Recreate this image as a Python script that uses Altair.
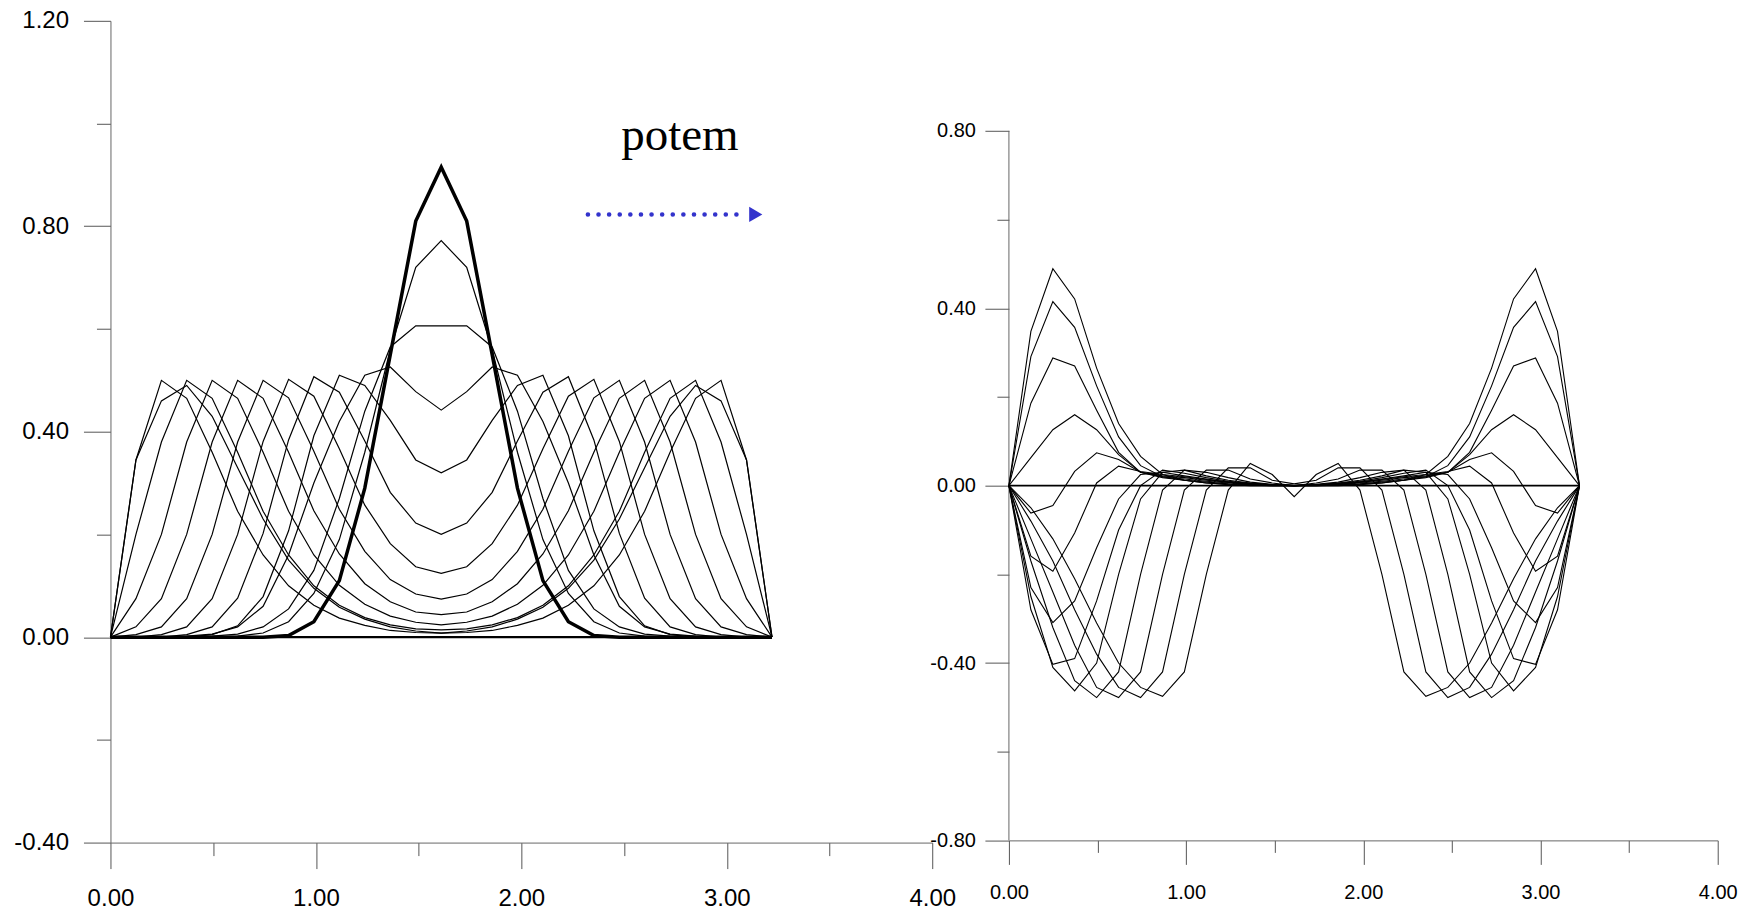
import altair as alt
import pandas as pd

# grid positions (x) shared by every curve
X = [0.000, 0.124, 0.248, 0.371, 0.495, 0.619, 0.743, 0.867, 0.990, 1.114, 1.238, 1.362, 1.486, 1.610,
     1.734, 1.858, 1.981, 2.105, 2.229, 2.353, 2.477, 2.600, 2.724, 2.848, 2.972, 3.096, 3.220]

# Left panel: values at grid points 0..13 (curves are symmetric about x = 1.61)
LEFT_BOLD = [0, 0, 0, 0, 0, 0, 0, 0.003, 0.03, 0.11, 0.29, 0.55, 0.81, 0.915]
LEFT_ZERO = [0] * 14
LEFT_CURVES = [
    [0, 0, 0, 0, 0, 0.002, 0.008, 0.03, 0.085, 0.19, 0.36, 0.56, 0.72, 0.772],
    [0, 0, 0, 0, 0.002, 0.006, 0.02, 0.055, 0.13, 0.27, 0.44, 0.565, 0.606, 0.606],
    [0, 0, 0, 0.002, 0.006, 0.02, 0.06, 0.16, 0.30, 0.42, 0.51, 0.526, 0.478, 0.442],
    [0, 0, 0, 0, 0.005, 0.022, 0.079, 0.207, 0.392, 0.51, 0.49, 0.422, 0.345, 0.32],
    [0, 0, 0, 0.005, 0.02, 0.076, 0.202, 0.384, 0.507, 0.477, 0.382, 0.282, 0.222, 0.20],
    [0, 0, 0.005, 0.02, 0.075, 0.20, 0.381, 0.502, 0.469, 0.367, 0.257, 0.182, 0.137, 0.124],
    [0, 0.005, 0.02, 0.075, 0.20, 0.38, 0.50, 0.466, 0.362, 0.249, 0.167, 0.112, 0.084, 0.074],
    [0, 0.02, 0.075, 0.20, 0.38, 0.50, 0.465, 0.36, 0.246, 0.162, 0.104, 0.069, 0.049, 0.044],
    [0, 0.075, 0.20, 0.38, 0.50, 0.465, 0.36, 0.245, 0.16, 0.101, 0.064, 0.041, 0.029, 0.024],
    [0, 0.20, 0.38, 0.50, 0.465, 0.36, 0.245, 0.16, 0.10, 0.062, 0.038, 0.024, 0.016, 0.014],
    [0, 0.345, 0.50, 0.465, 0.36, 0.245, 0.16, 0.10, 0.062, 0.037, 0.023, 0.013, 0.009, 0.008],
    [0, 0.345, 0.46, 0.49, 0.43, 0.33, 0.23, 0.15, 0.095, 0.058, 0.035, 0.02, 0.012, 0.008],
]

# Right panel ("potem"): values at grid points 0..13, symmetric about x = 1.61
RIGHT_ZERO = [0] * 14
RIGHT_CURVES = [
    [0, 0.348, 0.489, 0.421, 0.265, 0.14, 0.066, 0.025, 0.012, 0.006, 0.002, 0, 0, 0],
    [0, 0.291, 0.415, 0.357, 0.225, 0.11, 0.045, 0.02, 0.012, 0.006, 0.003, 0.001, 0, 0],
    [0, 0.186, 0.288, 0.270, 0.17, 0.075, 0.03, 0.018, 0.012, 0.008, 0.004, 0.002, 0, 0],
    [0, 0.063, 0.126, 0.160, 0.126, 0.07, 0.03, 0.02, 0.015, 0.01, 0.006, 0.003, 0.001, 0],
    [0, -0.062, -0.045, 0.032, 0.074, 0.059, 0.03, 0.022, 0.018, 0.012, 0.008, 0.004, 0.001, 0],
    [0, -0.159, -0.193, -0.107, 0.006, 0.044, 0.032, 0.025, 0.02, 0.014, 0.008, 0.004, 0.002, 0],
    [0, -0.23, -0.309, -0.26, -0.14, -0.03, 0.025, 0.03, 0.022, 0.015, 0.008, 0.004, 0.002, 0],
    [0, -0.28, -0.403, -0.39, -0.26, -0.10, 0.0, 0.035, 0.028, 0.018, 0.01, 0.005, 0.002, 0],
    [0, -0.25, -0.41, -0.463, -0.40, -0.20, -0.03, 0.03, 0.035, 0.022, 0.012, 0.006, 0.002, 0],
    [0, -0.17, -0.32, -0.44, -0.478, -0.42, -0.20, -0.01, 0.035, 0.03, 0.018, 0.008, 0.003, 0],
    [0, -0.12, -0.24, -0.36, -0.455, -0.478, -0.42, -0.20, -0.01, 0.035, 0.035, 0.015, 0.006, 0.0],
    [0, -0.08, -0.17, -0.28, -0.38, -0.455, -0.478, -0.42, -0.20, -0.01, 0.04, 0.04, 0.012, 0.004],
    [0, -0.05, -0.12, -0.21, -0.31, -0.40, -0.455, -0.475, -0.42, -0.20, -0.01, 0.05, 0.025, -0.025],
]

LEFT_X_TICKS = [0, 0.5, 1, 1.5, 2, 2.5, 3, 3.5, 4]
LEFT_Y_TICKS = [-0.4, -0.2, 0, 0.2, 0.4, 0.6, 0.8, 1.0, 1.2]
RIGHT_X_TICKS = [0, 0.5, 1, 1.5, 2, 2.5, 3, 3.5, 4]
RIGHT_Y_TICKS = [-0.8, -0.6, -0.4, -0.2, 0, 0.2, 0.4, 0.6, 0.8]

ANNOT_TEXT = "potem"
ANNOT_POS = (2.772, 0.948)
ARROW_X = (2.324, 3.063)
ARROW_HEAD_X = 3.141
ARROW_Y = 0.823


def mirror(half):
    return list(half) + list(half[-2::-1])


def curves_df(curves, prefix):
    rows = []
    for k, half in enumerate(curves):
        for i, (x, y) in enumerate(zip(X, mirror(half))):
            rows.append({"curve": f"{prefix}{k}", "i": i, "x": x, "y": y})
    return pd.DataFrame(rows)


def make_axis(values, test, font_size, major, minor, pad, domain=True):
    fmt = "replace(format(datum.value, '.2f'), '\u2212', '-')"
    return alt.Axis(
        values=values,
        labelExpr=f"({test}) ? {fmt} : ''",
        tickSize={"condition": {"test": test, "value": major}, "value": minor},
        labelFont="Liberation Sans", labelFontSize=font_size, labelColor="black",
        domain=domain, domainColor="#666666", tickColor="#555555", domainWidth=1, tickWidth=1,
        labelPadding=pad, grid=False, title=None, labelFlush=False, labelOverlap=False,
    )


X_TEST = "abs(datum.value - round(datum.value)) < 0.01"
Y_TEST = "abs(datum.value / 0.4 - round(datum.value / 0.4)) < 0.01"

# ---------------- left panel ----------------
lx = alt.X("x:Q", scale=alt.Scale(domain=[0, 4], nice=False, zero=False),
           axis=make_axis(LEFT_X_TICKS, X_TEST, 24, 26, 13, 18))
ly = alt.Y("y:Q", scale=alt.Scale(domain=[-0.4, 1.2], nice=False, zero=False),
           axis=make_axis(LEFT_Y_TICKS, Y_TEST, 24, 27, 14, 15))

left_thin = alt.Chart(curves_df(LEFT_CURVES, "L")).mark_line(
    color="black", strokeWidth=1.2).encode(x=lx, y=ly, detail="curve:N", order="i:Q")
left_zero = alt.Chart(curves_df([LEFT_ZERO], "Z")).mark_line(
    color="black", strokeWidth=2.2).encode(x="x:Q", y="y:Q", order="i:Q")
left_bold = alt.Chart(curves_df([LEFT_BOLD], "B")).mark_line(
    color="black", strokeWidth=3.5, strokeJoin="miter").encode(x="x:Q", y="y:Q", order="i:Q")

text_df = pd.DataFrame([{"x": ANNOT_POS[0], "y": ANNOT_POS[1], "t": ANNOT_TEXT}])
left_text = alt.Chart(text_df).mark_text(
    font="Liberation Serif", fontSize=47, align="center", baseline="alphabetic", color="black"
).encode(x="x:Q", y="y:Q", text="t:N")

arrow_df = pd.DataFrame([{"x": ARROW_X[0], "x2": ARROW_X[1], "y": ARROW_Y}])
left_arrow = alt.Chart(arrow_df).mark_rule(
    color="#3333CC", strokeWidth=4.6, strokeCap="round", strokeDash=[0.01, 10.6]
).encode(x="x:Q", x2="x2:Q", y="y:Q")
head_df = pd.DataFrame([{"x": ARROW_HEAD_X, "y": ARROW_Y}])
left_head = alt.Chart(head_df).mark_point(
    shape="triangle-right", filled=True, size=230, color="#3333CC", opacity=1, strokeWidth=0
).encode(x="x:Q", y="y:Q")

left = alt.layer(left_thin, left_zero, left_bold, left_text, left_arrow, left_head).properties(
    width=822, height=822)

# ---------------- right panel ----------------
rx = alt.X("x:Q", scale=alt.Scale(domain=[0, 4], nice=False, zero=False),
           axis=make_axis(RIGHT_X_TICKS, X_TEST, 20, 24, 12, 18))
ry = alt.Y("y:Q", scale=alt.Scale(domain=[-0.8, 1.0482], nice=False, zero=False),
           axis=make_axis(RIGHT_Y_TICKS, Y_TEST, 20, 24, 12, 9.5, domain=False))

right_thin = alt.Chart(curves_df(RIGHT_CURVES, "R")).mark_line(
    color="black", strokeWidth=1.1).encode(x=rx, y=ry, detail="curve:N", order="i:Q")
right_zero = alt.Chart(curves_df([RIGHT_ZERO], "Z")).mark_line(
    color="black", strokeWidth=1.8).encode(x="x:Q", y="y:Q", order="i:Q")
yaxis_df = pd.DataFrame([{"x": 0, "y": RIGHT_Y_TICKS[0], "y2": RIGHT_Y_TICKS[-1]}])
right_yline = alt.Chart(yaxis_df).mark_rule(color="#666666", strokeWidth=1).encode(
    x="x:Q", y="y:Q", y2="y2:Q")

right = alt.layer(right_yline, right_thin, right_zero).properties(width=709, height=819.8)

chart = alt.hconcat(left, right, spacing=76.7, bounds="flush").properties(
    padding={"left": 13.5, "top": 8.7, "right": 15, "bottom": 1},
    background="white",
).configure_view(stroke="transparent", strokeWidth=0)

chart.save("out.html", embed_options={"renderer": "svg", "actions": False})
